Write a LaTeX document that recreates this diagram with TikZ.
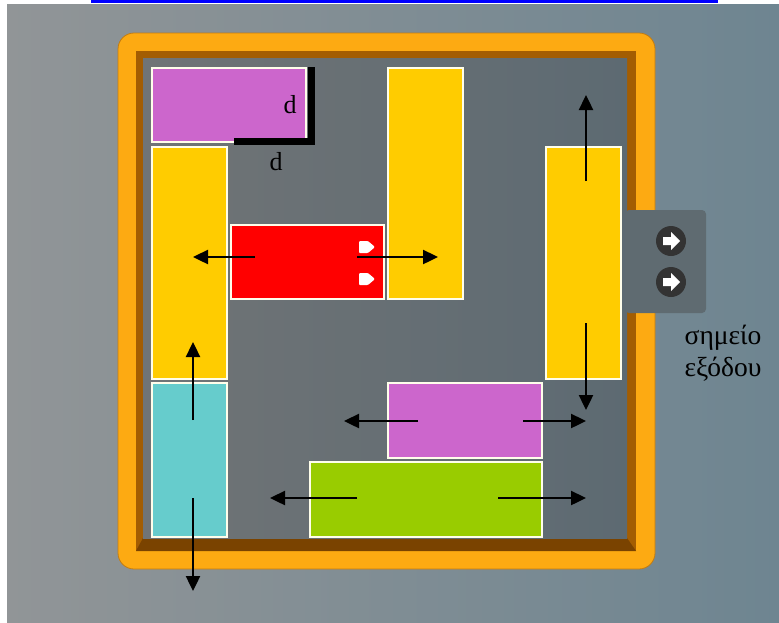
\documentclass[tikz,border=0pt]{standalone}
\usepackage{fontspec}
\setmainfont{Liberation Serif}
\usetikzlibrary{arrows.meta}
\definecolor{bgL}{HTML}{919597}
\definecolor{bgR}{HTML}{6E8591}
\definecolor{linkblue}{HTML}{0000FF}
\definecolor{frameOrange}{HTML}{FDAA12}
\definecolor{frameEdge}{HTML}{C27C12}
\definecolor{bevel}{HTML}{A35D02}
\definecolor{bevelDark}{HTML}{7A4300}
\definecolor{boardL}{HTML}{707476}
\definecolor{boardR}{HTML}{5D6A72}
\definecolor{exitPanel}{HTML}{5F6B71}
\definecolor{iconDark}{HTML}{333333}
\definecolor{bPurple}{HTML}{CC66CC}
\definecolor{bYellow}{HTML}{FFCC00}
\definecolor{bCyan}{HTML}{66CCCC}
\definecolor{bRed}{HTML}{FF0000}
\definecolor{bGreen}{HTML}{99CC00}
\tikzset{
  block/.style={draw=white!92!yellow, line width=1.3pt, inner sep=0pt, outer sep=0pt, anchor=north west},
  move/.style={line width=2.4pt, -{Triangle[length=15pt,width=14pt]}},
  lbl/.style={font=\fontsize{26}{31}\selectfont, anchor=base, inner sep=0pt},
  glbl/.style={font=\fontsize{27.5}{31}\selectfont, anchor=base, inner sep=0pt},
  icon/.style={circle, fill=iconDark, minimum size=30pt, inner sep=0pt},
}
\newcommand{\whitearrow}[1]{\fill[white, rounded corners=1pt, shift={(#1)}] (-8,-6) -- (1,-6) -- (8,0) -- (1,6) -- (-8,6) -- cycle;}
\newcommand{\iconarrow}[1]{\fill[white, shift={(#1)}] (-8,-4) -- (0,-4) -- (0,-9) -- (9,0) -- (0,9) -- (0,4) -- (-8,4) -- cycle;}
\begin{document}
\begin{tikzpicture}[x=1pt,y=-1pt]
\useasboundingbox (0,0) rectangle (779,622);
\fill[white] (0,0) rectangle (779,622);
\shade[left color=bgL, right color=bgR] (7,4) rectangle (779,622);
\fill[linkblue] (91,0) rectangle (718,2.5);
% frame
\fill[frameOrange, draw=frameEdge, line width=0.8pt, rounded corners=16pt] (118,33) rectangle (655,569);
\fill[bevel] (136,51) rectangle (636,551);
\fill[bevelDark] (143,538) -- (627,538) -- (636,551) -- (136,551) -- cycle;
\shade[left color=boardL, right color=boardR] (143,58) rectangle (627,538);
% exit
\fill[exitPanel, rounded corners=4pt] (625,210) rectangle (706,313);
\node[icon] (i1) at (671,241) {};
\node[icon] (i2) at (671,282) {};
\iconarrow{i1}
\iconarrow{i2}
% blocks
\node[block, fill=bPurple, minimum width=154pt, minimum height=74pt] (p1) at (152,68) {};
\node[block, fill=bYellow, minimum width=75pt, minimum height=232pt] (y1) at (152,147) {};
\node[block, fill=bCyan, minimum width=75pt, minimum height=154pt] (cy) at (152,383) {};
\node[block, fill=bRed, minimum width=153pt, minimum height=74pt] (rd) at (231,225) {};
\node[block, fill=bYellow, minimum width=75pt, minimum height=231pt] (y2) at (388,68) {};
\node[block, fill=bYellow, minimum width=75pt, minimum height=232pt] (y3) at (546,147) {};
\node[block, fill=bPurple, minimum width=154pt, minimum height=75pt] (p2) at (388,383) {};
\node[block, fill=bGreen, minimum width=232pt, minimum height=75pt] (gr) at (310,462) {};
\coordinate (w1) at (367,247);
\coordinate (w2) at (367,279);
\whitearrow{w1}
\whitearrow{w2}
% d marker
\fill[black] (308,67) rectangle (315,145);
\fill[black] (234,138) rectangle (315,145);
\node[lbl] (d1) at (290,113) {d};
\node[lbl] (d2) at (276,170) {d};
% exit label
\node[glbl] (t1) at (723,344) {σημείο};
\node[glbl] (t2) at (723,376) {εξόδου};
% arrows
\coordinate (a1s) at (255,257); \coordinate (a1e) at (193,257);
\coordinate (a2s) at (357,257); \coordinate (a2e) at (438,257);
\coordinate (a3s) at (586,181); \coordinate (a3e) at (586,95);
\coordinate (a4s) at (586,323); \coordinate (a4e) at (586,410);
\coordinate (a5s) at (193,420); \coordinate (a5e) at (193,342);
\coordinate (a6s) at (193,498); \coordinate (a6e) at (193,591);
\coordinate (a7s) at (418,421); \coordinate (a7e) at (344,421);
\coordinate (a8s) at (523,421); \coordinate (a8e) at (586,421);
\coordinate (a9s) at (357,498); \coordinate (a9e) at (270,498);
\coordinate (a10s) at (498,498); \coordinate (a10e) at (586,498);
\foreach \i in {1,...,10} {\draw[move] (a\i s) -- (a\i e);}
\end{tikzpicture}
\end{document}
